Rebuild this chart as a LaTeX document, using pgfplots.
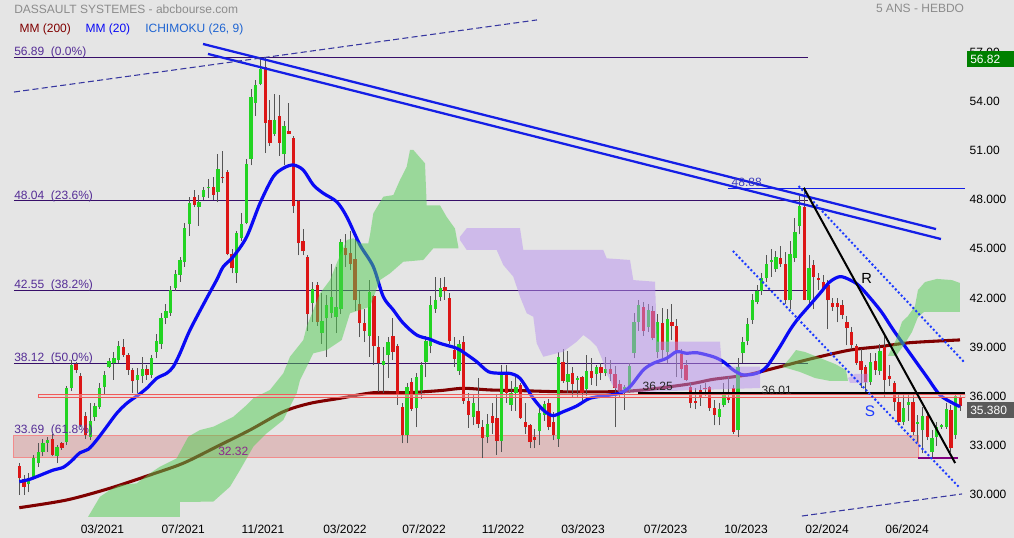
\documentclass[border=0pt]{standalone}
\usepackage{fontspec}
\setmainfont{Liberation Sans}
\usepackage{pgfplots}
\usepackage{pgfplotstable}
\pgfplotsset{compat=1.18}

\definecolor{bg}{RGB}{229,229,229}
\definecolor{upc}{RGB}{34,212,34}
\definecolor{dnc}{RGB}{220,22,22}
\definecolor{wickc}{RGB}{85,85,85}
\definecolor{maA}{RGB}{10,10,245}
\definecolor{maB}{RGB}{128,0,0}
\definecolor{cloudg}{RGB}{80,205,80}
\definecolor{cloudp}{RGB}{185,145,240}
\definecolor{zonef}{RGB}{221,189,189}
\definecolor{zoneb}{RGB}{242,140,140}
\definecolor{bandf}{RGB}{245,205,205}
\definecolor{bandb}{RGB}{240,90,90}
\definecolor{fibc}{RGB}{55,15,105}
\definecolor{fibt}{RGB}{85,45,150}
\definecolor{titc}{RGB}{140,140,140}
\definecolor{trendc}{RGB}{20,30,230}
\definecolor{navyc}{RGB}{55,55,160}
\definecolor{dotc}{RGB}{30,60,255}
\definecolor{ichic}{RGB}{30,100,210}
\definecolor{lblA}{RGB}{140,40,140}
\definecolor{lblB}{RGB}{60,60,190}
\definecolor{boxg}{RGB}{0,128,0}
\definecolor{boxk}{RGB}{90,90,90}

\newcommand\f{\fontsize{9}{10}\selectfont}

% weekly candles: x = week index, open high low close
\pgfplotstableread{
x o h l c
0 31.70 31.90 29.95 31.00
1 30.93 31.17 29.95 30.44
2 30.60 31.30 30.10 31.00
3 31.00 32.40 30.90 32.20
4 31.90 33.10 31.65 32.60
5 32.60 33.40 32.30 33.10
6 33.10 33.50 32.60 33.30
7 33.40 33.70 32.30 32.40
8 32.30 33.00 31.90 32.90
9 33.10 33.20 32.70 32.80
10 33.20 36.60 33.00 36.50
11 36.50 38.20 36.30 37.90
12 37.95 38.10 37.40 37.60
13 37.20 37.40 34.10 34.20
14 34.80 35.00 33.40 33.60
15 33.50 35.60 33.30 34.50
16 34.70 35.60 34.50 35.40
17 35.30 36.80 35.20 36.50
18 36.55 37.55 36.10 37.30
19 37.80 38.30 37.70 38.15
20 38.00 38.70 37.00 38.30
21 38.20 39.35 38.00 39.05
22 39.00 39.50 38.40 38.50
23 38.50 38.60 37.30 37.60
24 37.60 37.70 36.20 36.90
25 37.00 37.70 36.20 37.30
26 37.20 38.40 36.80 37.65
27 37.65 37.90 37.00 37.30
28 37.30 38.50 37.10 38.30
29 38.70 39.80 38.30 39.35
30 39.20 41.10 38.90 40.80
31 40.80 41.60 40.40 41.20
32 41.10 42.70 40.90 42.50
33 42.60 43.70 42.40 43.45
34 43.40 44.50 43.00 44.30
35 44.20 46.60 43.90 46.30
36 46.50 48.15 45.80 47.80
37 48.15 48.60 47.55 47.70
38 47.55 48.30 46.40 47.85
39 48.15 48.80 48.00 48.60
40 48.70 49.30 48.10 48.78
41 48.80 49.40 48.00 48.30
42 48.45 50.80 47.85 49.90
43 49.40 51.00 49.00 49.32
44 49.70 49.80 44.60 44.70
45 44.70 45.00 43.50 43.80
46 43.50 46.10 42.90 45.95
47 45.65 47.20 45.50 46.50
48 46.60 50.50 46.50 50.20
49 50.50 54.80 50.10 54.30
50 53.95 55.30 53.15 55.05
51 55.10 56.70 55.00 56.00
52 56.10 56.70 50.85 52.70
53 52.85 54.10 51.30 51.45
54 52.05 54.50 51.90 52.90
55 53.15 54.40 50.70 51.50
56 50.80 52.80 50.10 52.50
57 52.20 53.90 52.00 52.05
58 51.80 51.90 47.20 47.60
59 47.90 48.00 44.60 45.35
60 45.50 46.20 44.60 44.85
61 44.50 44.60 40.00 41.00
62 41.70 43.00 40.50 42.55
63 42.80 42.95 40.30 40.55
64 39.85 42.30 39.20 40.60
65 40.75 42.20 38.40 41.55
66 41.10 44.10 40.80 42.05
67 40.85 43.90 39.85 41.45
68 41.30 45.60 41.00 45.40
69 45.05 45.90 43.90 44.60
70 44.75 46.10 43.70 44.10
71 44.35 45.60 41.20 41.85
72 41.60 42.40 39.60 40.45
73 40.45 41.30 39.30 40.00
74 39.70 43.10 38.40 42.35
75 42.10 42.20 37.90 39.05
76 39.00 39.70 36.25 38.00
77 37.90 39.00 36.20 38.15
78 38.50 39.60 37.10 39.30
79 39.65 40.75 38.20 38.70
80 39.05 39.20 35.45 36.05
81 35.30 35.60 33.10 33.60
82 33.60 36.80 33.10 36.55
83 36.85 37.10 35.10 35.20
84 35.25 37.40 34.10 37.15
85 36.35 38.10 35.80 37.90
86 38.05 39.70 37.15 39.35
87 39.05 42.10 38.60 41.55
88 41.30 43.30 41.10 41.85
89 42.05 43.20 41.80 42.60
90 42.65 43.30 41.90 42.40
91 42.00 42.30 39.20 39.35
92 38.80 39.60 37.80 38.25
93 37.50 39.40 37.30 39.20
94 39.30 39.65 35.50 35.70
95 35.70 36.20 34.05 34.85
96 34.70 36.10 34.20 35.60
97 35.10 37.10 34.05 34.30
98 34.10 34.55 32.20 33.45
99 33.50 34.90 33.10 34.30
100 34.80 35.60 33.70 34.35
101 34.65 36.05 32.40 33.25
102 33.25 37.90 32.60 37.35
103 37.40 37.90 35.60 36.20
104 35.45 36.90 35.10 36.20
105 36.20 37.20 35.10 36.55
106 36.65 36.80 34.60 34.65
107 34.40 35.60 33.70 34.10
108 34.20 34.30 32.80 33.20
109 33.50 34.00 32.80 33.30
110 33.85 35.30 33.00 34.95
111 34.85 35.70 34.50 35.50
112 35.60 35.80 33.90 34.10
113 34.40 35.00 33.30 33.60
114 33.40 38.70 32.90 38.40
115 38.10 38.90 36.80 36.90
116 36.85 38.75 36.20 37.35
117 37.40 37.80 35.90 36.75
118 37.00 37.20 35.90 37.10
119 37.15 37.25 35.60 36.20
120 36.40 38.50 36.00 37.50
121 37.50 38.30 36.70 37.10
122 37.35 37.90 36.60 37.75
123 37.75 38.00 37.00 37.40
124 37.40 38.40 37.20 37.65
125 37.65 38.20 36.90 37.35
126 37.35 37.85 34.10 36.50
127 36.75 37.00 35.90 36.35
128 36.40 36.70 35.15 36.55
129 36.35 38.00 36.20 37.85
130 38.60 41.10 38.30 40.50
131 40.50 41.90 40.00 41.55
132 41.45 41.75 39.70 40.00
133 40.20 41.65 39.90 41.25
134 41.20 41.50 39.40 39.55
135 38.70 41.00 38.30 40.50
136 40.45 41.40 38.30 38.80
137 38.70 41.30 38.00 40.70
138 40.50 41.60 39.40 40.30
139 40.30 40.70 37.15 38.70
140 38.55 38.90 37.10 37.65
141 37.90 38.20 36.90 37.00
142 36.55 36.80 35.25 35.55
143 35.70 36.50 35.20 35.60
144 36.35 36.70 35.40 35.95
145 36.50 36.80 36.00 36.42
146 36.55 36.60 35.10 35.25
147 35.25 35.75 34.20 34.85
148 34.70 35.60 34.20 35.20
149 35.45 36.80 35.30 36.25
150 35.95 37.15 35.60 35.75
151 36.50 36.70 33.70 33.80
152 33.90 38.30 33.50 37.75
153 38.60 39.60 38.00 39.30
154 39.35 40.75 39.10 40.40
155 40.65 42.25 40.40 41.90
156 41.75 42.80 41.60 42.40
157 42.40 43.50 42.20 43.20
158 43.20 44.60 43.00 44.05
159 44.20 45.00 43.30 44.30
160 43.75 44.85 43.60 44.50
161 44.45 45.15 43.90 44.05
162 44.05 44.80 41.60 41.85
163 41.85 45.50 41.30 44.70
164 44.45 46.90 44.20 46.00
165 46.40 48.25 45.90 47.65
166 47.55 48.78 41.85 41.90
167 41.85 44.60 41.60 43.80
168 44.00 44.30 41.30 43.30
169 43.20 43.50 42.50 43.12
170 43.00 43.40 42.40 42.60
171 42.80 43.10 40.10 41.85
172 41.70 42.00 41.20 41.45
173 41.70 42.00 40.50 41.45
174 41.55 41.90 40.70 40.95
175 40.50 40.90 39.10 40.15
176 39.90 40.20 38.90 39.10
177 39.05 39.20 37.90 38.00
178 38.15 38.90 36.50 37.60
179 37.75 37.90 36.20 36.85
180 36.85 38.60 36.70 38.10
181 38.15 38.60 37.30 37.60
182 37.55 39.15 37.30 38.75
183 39.00 39.85 35.95 37.00
184 37.20 37.90 36.60 37.05
185 36.80 36.90 35.10 35.65
186 35.65 36.25 34.30 34.40
187 34.40 36.10 34.20 35.25
188 35.45 36.10 34.50 35.65
189 35.65 36.25 33.60 33.80
190 34.30 34.85 33.20 34.40
191 33.90 35.30 32.50 34.80
192 34.80 35.10 33.30 33.50
193 32.60 33.90 32.20 33.45
194 33.50 34.40 32.95 34.10
195 34.10 34.30 34.00 34.20
196 34.10 35.55 34.00 35.20
197 35.15 35.45 32.55 32.80
198 33.60 36.20 33.40 36.00
199 35.95 36.10 35.10 35.38
}\candles

\begin{document}
\begin{tikzpicture}
\path[use as bounding box] (0,-15.75pt) rectangle (760.5pt,387.75pt);
\fill[bg] (0,-15.75pt) rectangle (760.5pt,387.75pt);
\begin{axis}[
  at={(0,0)}, anchor=south west, scale only axis,
  width=723.75pt, height=387.75pt,
  xmin=-4.08, xmax=199.98, ymin=28.60, ymax=60.22,
  axis line style={draw=none}, tick style={draw=none},
  major tick length=0pt,
  xtick={17.59,34.66,51.53,68.87,85.58,102.29,119.2,136.65,153.67,170.8,187.72},
  xticklabels={03/2021,07/2021,11/2021,03/2022,07/2022,11/2022,03/2023,07/2023,10/2023,02/2024,06/2024},
  ytick={30,33,...,57},
  yticklabels={30.000,33.000,36.000,39.000,42.000,45.000,48.000,51.00,54.00,57.00},
  yticklabel pos=right,
  ticklabel style={font=\f, text=black},
  xticklabel style={anchor=north, yshift=-2pt},
  yticklabel style={anchor=west},
  candle/.style={draw=none, mark=none},
]
% support zone and fibonacci levels
\addplot[fill=zonef, draw=zoneb, line width=0.75pt]
  coordinates {(-1.12,32.21) (190.04,32.21) (190.04,33.61) (-1.12,33.61) (-1.12,32.21)};
\addplot[fibc, line width=0.75pt] coordinates {(-1.12,56.69) (166.78,56.69)};
\addplot[fibc, line width=0.75pt] coordinates {(-1.12,47.94) (166.78,47.94)};
\addplot[fibc, line width=0.75pt] coordinates {(-1.12,42.45) (166.78,42.45)};
\addplot[fibc, line width=0.75pt] coordinates {(-1.12,38.00) (166.78,38.00)};

% MM 200
\addplot[maB, line width=2.3pt, smooth] coordinates {
(0,29.17) (10.02,29.64) (19.18,30.36) (27.64,31.17) (34.68,31.89) (41.74,32.90)
(48.78,33.92) (55.83,35.04) (61.47,35.55) (67.81,35.86) (74.86,36.20) (81.92,36.20)
(88.96,36.33) (93.89,36.47) (99.53,36.37) (105.88,36.33) (114.34,36.26) (124.91,36.26)
(131.95,36.37) (141.83,36.74) (146.75,37.02) (153.82,37.29) (160.86,37.79) (167.90,38.31)
(175.66,38.81) (182.01,39.02) (188.34,39.26) (198.92,39.43)};

% candles: wicks, rising bodies, falling bodies
\addplot[candle,
  error bars/.cd, y dir=plus, y explicit, error mark=none,
  error bar style={solid, line width=0.75pt, draw=wickc}]
  table[x=x, y=l, y error plus expr={\thisrow{h}-\thisrow{l}}] {\candles};
\addplot[candle,
  error bars/.cd, y dir=plus, y explicit, error mark=none,
  error bar style={solid, line width=2.5pt, draw=upc}]
  table[x=x, y expr={ifthenelse(\thisrow{c}>\thisrow{o},\thisrow{o},100)},
        y error plus expr={abs(\thisrow{c}-\thisrow{o})}] {\candles};
\addplot[candle,
  error bars/.cd, y dir=plus, y explicit, error mark=none,
  error bar style={solid, line width=2.5pt, draw=dnc}]
  table[x=x, y expr={ifthenelse(\thisrow{c}>\thisrow{o},100,\thisrow{c})},
        y error plus expr={abs(\thisrow{c}-\thisrow{o})}] {\candles};

% MM 20
\addplot[maA, line width=2.4pt, smooth] coordinates {
(0,30.76) (2.26,30.91) (5.08,31.23) (7.19,31.47) (9.30,31.64) (11.08,32.04) (12.84,32.53)
(14.59,32.74) (16.37,33.31) (18.48,34.12) (20.60,34.94) (22.71,35.55) (25.16,36.06)
(26.94,36.47) (29.05,37.08) (31.17,37.39) (32.56,37.79) (33.98,38.61) (36.10,40.04)
(39.63,41.98) (41.74,43.10) (43.14,43.91) (45.25,44.52) (48.09,45.74) (50.90,47.79)
(53.71,49.41) (55.83,49.93) (57.94,50.13) (60.05,49.82) (62.17,48.91) (64.28,48.40)
(67.12,47.88) (69.23,46.97) (72.04,45.24) (74.86,43.91) (76.97,42.07) (79.09,41.26)
(81.20,40.45) (84.03,39.73) (86.85,39.47) (88.96,39.22) (92.49,38.92) (94.25,38.61)
(96.72,38.10) (99.18,37.49) (101.65,37.39) (103.76,37.38) (105.88,37.08) (108.69,35.86)
(110.81,35.14) (112.80,34.80) (115.03,35.04) (117.87,35.39) (120.68,35.86) (124.91,36.06)
(127.02,36.17) (129.14,36.57) (131.95,37.59) (134.07,38.00) (136.90,38.31) (139.01,38.71)
(141.13,38.61) (143.24,38.65) (146.75,38.40) (148.87,38.10) (150.98,37.59) (153.10,37.29)
(155.93,37.39) (158.05,37.79) (160.86,39.02) (162.97,40.04) (164.73,40.75) (167.20,41.57)
(169.32,42.28) (171.43,42.99) (173.55,43.30) (175.66,43.10) (177.78,42.69) (182.01,41.26)
(184.82,40.04) (188.34,38.61) (191.88,37.18) (194.69,36.06) (197.51,35.55) (198.92,35.35)};

% ichimoku clouds
\addplot[draw=none, fill=cloudg, fill opacity=0.5] coordinates {
(14.53,28.60) (17.06,29.84) (19.18,30.25) (21.29,30.56) (24.83,30.66) (27.64,31.27)
(29.75,31.68) (33.28,32.19) (35.74,33.51) (38.21,33.92) (41.02,34.12) (45.25,34.73)
(48.09,35.45) (49.48,35.86) (53.01,36.37) (55.83,37.39) (57.24,38.40) (60.05,39.42)
(60.77,40.24) (63.59,42.28) (65.70,43.09) (67.12,44.12) (69.23,45.54) (70.63,45.65)
(72.04,45.34) (73.80,45.34) (74.16,45.85) (74.86,47.17) (76.97,48.19) (79.09,48.29)
(80.50,49.21) (81.92,50.02) (82.62,51.05) (83.32,51.05) (85.79,50.23) (86.15,47.66)
(88.96,47.66) (90.38,46.95) (92.13,46.24) (92.83,45.13) (92.83,45.03) (87.54,45.03)
(85.43,44.32) (81.20,44.21) (78.39,43.50) (76.27,43.09) (74.16,41.46) (72.04,41.26)
(69.93,41.06) (68.17,39.42) (65.00,38.81) (62.17,38.61) (60.77,37.79) (59.36,36.98)
(58.66,36.17) (57.24,35.35) (55.83,34.53) (52.32,33.72) (49.48,32.90) (46.67,31.47)
(44.55,30.45) (41.02,29.54) (33.98,29.52) (33.98,28.60)};
\addplot[draw=none, fill=cloudp, fill opacity=0.5] coordinates {
(93.19,45.74) (94.61,46.26) (105.88,46.26) (106.58,44.93) (123.49,44.93) (124.21,44.42)
(129.14,44.32) (129.84,43.09) (134.43,42.99) (134.85,39.32) (148.17,39.32) (148.59,37.79)
(156.63,37.79) (156.63,36.49) (143.94,36.37) (131.26,36.24) (127.02,36.17) (125.61,36.57)
(124.21,37.39) (123.15,38.31) (122.10,39.02) (120.68,39.43) (119.27,39.73) (117.87,39.32)
(115.03,38.71) (110.81,38.40) (109.41,39.22) (108.69,40.85) (107.30,41.06) (105.88,42.07)
(104.46,43.30) (102.35,44.01) (100.95,44.93) (94.61,44.93) (93.19,45.54)};
\addplot[draw=none, fill=cloudg, fill opacity=0.5] coordinates {
(161.49,37.83) (162.97,38.32) (164.24,38.81) (166.14,38.69) (168.26,38.45) (170.37,38.20)
(172.49,37.96) (174.81,37.59) (175.24,36.92) (171.43,36.92) (168.26,37.10) (165.09,37.47)
(162.97,37.65) (161.49,37.77)};
\addplot[draw=none, fill=cloudp, fill opacity=0.5] coordinates {
(175.24,37.10) (176.72,37.35) (179.47,37.35) (179.47,36.80) (175.66,36.80)};
\addplot[draw=none, fill=cloudg, fill opacity=0.5] coordinates {
(183.69,38.45) (185.38,39.43) (186.65,40.53) (187.92,40.89) (189.40,41.50) (190.03,42.48)
(191.51,42.97) (194.05,43.16) (197.22,43.09) (198.92,42.91) (198.92,41.14) (191.30,41.14)
(190.03,40.83) (188.76,39.91) (187.07,39.12) (185.38,38.45)};

% resistance band near 36
\addplot[fill=bandf, fill opacity=0.4, draw=bandb, line width=0.7pt]
  coordinates {(3.95,35.92) (199.98,35.92) (199.98,36.10) (3.95,36.10) (3.95,35.92)};

% horizontal marks
\addplot[black, line width=0.9pt] coordinates {(130.83,36.18) (199.98,36.18)};
\addplot[trendc, line width=0.8pt] coordinates {(149.86,48.70) (199.98,48.70)};
\addplot[violet, line width=0.8pt] coordinates {(190.04,32.21) (198.5,32.21)};

% trend lines
\addplot[trendc, line width=1.7pt] coordinates {(38.85,57.53) (193.85,46.21)};
\addplot[trendc, line width=1.7pt] coordinates {(39.90,56.92) (194.90,45.60)};
\addplot[navyc, line width=0.8pt, dash pattern=on 4.5pt off 2.5pt] coordinates {(-1.12,54.59) (109.47,59.00)};
\addplot[navyc, line width=0.8pt, dash pattern=on 4.5pt off 2.5pt] coordinates {(165.5,28.66) (199.35,30.01)};
\addplot[dotc, line width=1.5pt, dash pattern=on 1.5pt off 1.7pt] coordinates {(164.8,48.84) (199.77,38.08)};
\addplot[dotc, line width=1.5pt, dash pattern=on 1.5pt off 1.7pt] coordinates {(150.9,44.87) (198.9,30.37)};
\addplot[black, line width=1.5pt] coordinates {(165.9,48.72) (197.9,31.90)};
\end{axis}

% texts and price boxes, in picture pixels from the top left corner
\begin{scope}[shift={(0pt,387.75pt)}, x=0.75pt, y=-0.75pt]
\node[anchor=west, inner sep=0, text=titc, font=\f] at (14,9) {DASSAULT SYSTEMES - abcbourse.com};
\node[inner sep=0, text=titc, font=\f] at (920,8.5) {5 ANS - HEBDO};
\node[anchor=west, inner sep=0, text=maB, font=\f] at (19.3,29.3) {MM (200)};
\node[anchor=west, inner sep=0, text=maA, font=\f] at (85.3,29.3) {MM (20)};
\node[anchor=west, inner sep=0, text=ichic, font=\f] at (145,29.3) {ICHIMOKU (26, 9)};
\node[anchor=west, inner sep=0, text=fibt, font=\f] at (14,52.3) {56.89~~(0.0\%)};
\node[anchor=west, inner sep=0, text=fibt, font=\f] at (14,196.7) {48.04~~(23.6\%)};
\node[anchor=west, inner sep=0, text=fibt, font=\f] at (14,285.7) {42.55~~(38.2\%)};
\node[anchor=west, inner sep=0, text=fibt, font=\f] at (14,358.3) {38.12~~(50.0\%)};
\node[anchor=west, inner sep=0, text=fibt, font=\f] at (14,430) {33.69~~(61.8\%)};
\node[inner sep=0, text=lblA, font=\f] at (233.3,451.7) {32.32};
\node[inner sep=0, text=lblB, font=\f] at (746.7,182.3) {48.88};
\node[inner sep=0, text=black!85, font=\f] at (657.7,386.7) {36.25};
\node[inner sep=0, text=black!85, font=\f] at (776.7,390) {36.01};
\node[inner sep=0, text=black, font=\fontsize{11}{12}\selectfont] at (866.7,278.3) {R};
\node[inner sep=0, text=dotc, font=\fontsize{11.5}{12}\selectfont] at (870,411.7) {S};
\fill[boxg] (967,51) rectangle (1014,67);
\node[anchor=west, inner sep=0, text=white, font=\f] at (970,59.3) {56.82};
\fill[boxk] (967,402) rectangle (1014,418);
\node[anchor=west, inner sep=0, text=white, font=\f] at (970,410.3) {35.380};
\end{scope}
\end{tikzpicture}
\end{document}
